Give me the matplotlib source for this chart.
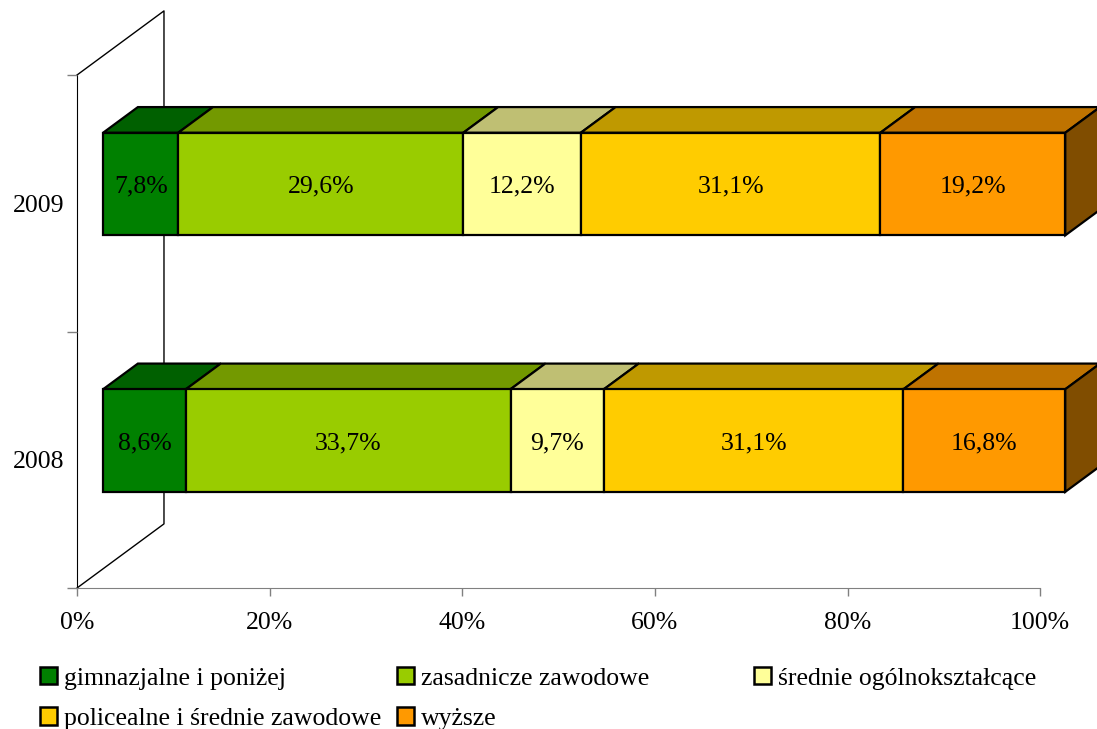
import numpy as np
import matplotlib
matplotlib.use('Agg')
import matplotlib.pyplot as plt
from matplotlib.patches import Polygon, Patch

years = ['2008', '2009']
categories = ['gimnazjalne i poniżej', 'zasadnicze zawodowe', 'średnie ogólnokształcące',
              'policealne i średnie zawodowe', 'wyższe']
share_2008 = [8.6, 33.7, 9.7, 31.1, 16.8]
share_2009 = [7.8, 29.6, 12.2, 31.1, 19.2]
colors = ['#008000', '#99CC00', '#FFFF99', '#FFCC00', '#FF9900']

plt.rcParams['font.family'] = ['Liberation Serif', 'DejaVu Serif']

# 3d look: depth offset in data units (x in %, y in category units)
DX, DY = 9.03, 0.25
D_FRONT, D_BACK = 0.3, 0.7
BAR_H = 0.4


def proj(x, y, d):
    return (x + d * DX, y + d * DY)


def shade(c, f):
    rgb = np.array(matplotlib.colors.to_rgb(c)) * f
    return tuple(rgb)


fig = plt.figure(figsize=(10.97, 7.29), dpi=100)
ax = fig.add_axes([0.0702, 0.1934, 0.878, 0.7037])
ax.set_xlim(0, 100)
ax.set_ylim(0, 2)

# side wall
wall = [proj(0, 2, 0), proj(0, 2, 1), proj(0, 0, 1), proj(0, 0, 0)]
wx, wy = zip(*wall)
ax.plot(wx, wy, color='black', lw=1, clip_on=False, zorder=1)

data = [share_2008, share_2009]
for row, vals in enumerate(data):
    yc = row + 0.5
    y0, y1 = yc - BAR_H / 2, yc + BAR_H / 2
    left = 0
    for i, v in enumerate(vals):
        right = left + v
        z = 3 + i
        top = [proj(left, y1, D_FRONT), proj(right, y1, D_FRONT),
               proj(right, y1, D_BACK), proj(left, y1, D_BACK)]
        ax.add_patch(Polygon(top, closed=True, facecolor=shade(colors[i], 0.75),
                             edgecolor='black', lw=1.6, clip_on=False, zorder=z,
                             joinstyle='miter'))
        front = [proj(left, y0, D_FRONT), proj(right, y0, D_FRONT),
                 proj(right, y1, D_FRONT), proj(left, y1, D_FRONT)]
        ax.add_patch(Polygon(front, closed=True, facecolor=colors[i],
                             edgecolor='black', lw=1.6, clip_on=False, zorder=z,
                             joinstyle='miter'))
        if i == len(vals) - 1:
            side = [proj(right, y0, D_FRONT), proj(right, y0, D_BACK),
                    proj(right, y1, D_BACK), proj(right, y1, D_FRONT)]
            ax.add_patch(Polygon(side, closed=True, facecolor=shade(colors[i], 0.5),
                                 edgecolor='black', lw=1.6, clip_on=False, zorder=z,
                                 joinstyle='miter'))
        cx, cy = proj((left + right) / 2, yc, D_FRONT)
        ax.text(cx, cy - 0.01, f'{v:.1f}%'.replace('.', ','), ha='center', va='center',
                fontsize=18.5, zorder=20)
        left = right

# axes styling
for s in ['top', 'right']:
    ax.spines[s].set_visible(False)
ax.spines['left'].set_color('black')
ax.spines['bottom'].set_color('#808080')
ax.spines['left'].set_zorder(1)
ax.spines['bottom'].set_zorder(1)

ax.set_xticks(np.arange(0, 101, 20))
ax.set_xticklabels([f'{t}%' for t in range(0, 101, 20)])
ax.tick_params(axis='x', length=6, width=1, color='#808080', pad=11, labelsize=18.5)

ax.set_yticks([0, 1, 2])
ax.set_yticklabels([])
ax.set_yticks([0.5, 1.5], minor=True)
ax.set_yticklabels(years, minor=True)
ax.tick_params(axis='y', which='major', length=7, width=1, color='#808080')
ax.tick_params(axis='y', which='minor', length=0, pad=9, labelsize=18.5)
for lbl in ax.get_yticklabels(minor=True):
    lbl.set_va('center_baseline')
ax.patch.set_visible(False)

# legend, three columns placed separately
handles = [Patch(facecolor=c, edgecolor='black', lw=1.8) for c in colors]
col_items = [[0, 3], [1, 4], [2]]
col_x = [40, 397, 754]
for items, xpx in zip(col_items, col_x):
    fig.legend([handles[k] for k in items], [categories[k] for k in items],
               loc='upper left', bbox_to_anchor=(xpx / 1097, 1 - 667 / 729),
               frameon=False, fontsize=18.5, handlelength=0.67, handleheight=0.67,
               handletextpad=0.25, labelspacing=0.68, borderpad=0, borderaxespad=0)

fig.savefig('out.png', dpi=100)
